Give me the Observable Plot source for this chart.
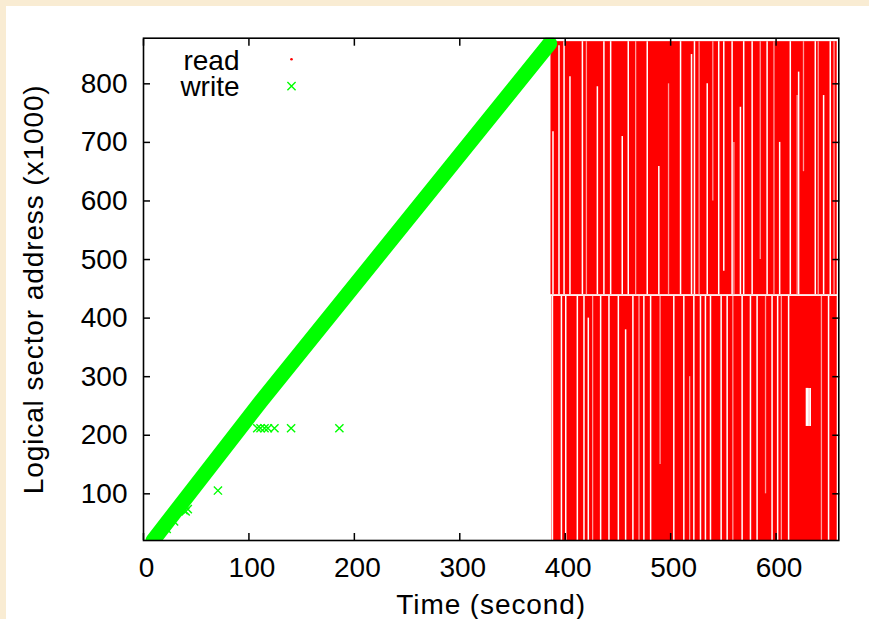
<!DOCTYPE html>
<html><head><meta charset="utf-8">
<script src="https://cdn.jsdelivr.net/npm/d3@7"></script>
<script src="https://cdn.jsdelivr.net/npm/@observablehq/plot@0.6"></script>
<style>
html,body{margin:0;padding:0;width:869px;height:619px;overflow:hidden;background:#f9ecd3;}
#panel{position:absolute;left:6px;top:6px;width:863px;height:613px;background:#fff;}
</style></head><body><div id="panel"></div>
<script>
// tick values
const xTicks = [0, 100, 200, 300, 400, 500, 600];
const yTicks = [100, 200, 300, 400, 500, 600, 700, 800];

// write stream (dense band of x markers) – points read along the band centre
const writeBandT = [9, 111, 385.3];
const writeBandY = [20.3, 257, 868.8];

// isolated write markers
const writeOutT = [22, 29, 38, 40, 42, 70.6, 107.9, 111, 114.8, 118, 124.2, 140, 185.8];
const writeOutY = [40, 53, 72, 70, 74, 105.6, 212, 212, 212, 212, 212, 212, 212];

// read region: dense blocks of reads (two halves of the address space)
const readStartT = [386.5, 387.4];
const readEndT = [658, 658];
const readLowY = [440, 20];
const readHighY = [872, 437];

// columns with no reads (time, address range)
const gapT = [388.4, 394.1, 398.9, 404.5, 416.3, 430.5, 436.7, 443.1, 454.1, 459.8, 477.8, 488.8, 509.4, 519.8, 522.6, 534.7, 545.6, 550.4, 558.3, 566.2, 569.3, 577.3, 591.5, 603.4, 613.5, 621.4, 637.2, 645.1, 651.4,
  387.9, 396.4, 400.5, 411.5, 417.8, 421.9, 433.6, 441.5, 450.4, 457.3, 464.2, 474.6, 481, 503, 512.5, 522, 528.3, 533, 537.8, 547.9, 553.6, 567.8, 575.7, 582, 596.2, 601.5, 611.9, 649.8,
  628.8, 630, 631.2, 632.4];
const gapLowY = [440, 440, 440, 440, 440, 440, 440, 440, 440, 440, 440, 440, 440, 440, 440, 440, 440, 480, 440, 440, 440, 440, 440, 440, 440, 440, 440, 440, 440,
  20, 20, 20, 20, 20, 20, 20, 20, 20, 20, 20, 20, 20, 20, 20, 20, 20, 20, 20, 20, 20, 20, 20, 20, 20, 20, 20, 20,
  215, 215, 215, 215];
const gapHighY = [718, 865, 872, 812, 872, 795, 872, 872, 710, 872, 872, 659, 872, 850, 872, 800, 872, 872, 872, 760, 872, 872, 872, 700, 872, 820, 872, 780, 872,
  437, 437, 437, 437, 437, 400, 437, 437, 437, 380, 437, 437, 437, 437, 437, 437, 437, 437, 437, 437, 437, 437, 437, 437, 437, 437, 437, 437,
  280, 280, 280, 280];

// columns with sparse reads
const sparseT = [420.1, 466.8, 498, 527, 540, 560, 585, 598, 620, 626, 640, 655, 426, 470, 490, 518, 559, 590, 605, 643];
const sparseLowY = [440, 440, 440, 440, 600, 440, 500, 440, 440, 650, 440, 440, 20, 20, 150, 20, 20, 100, 20, 20];
const sparseHighY = [872, 872, 800, 872, 872, 700, 872, 872, 780, 872, 872, 872, 437, 437, 437, 300, 437, 437, 437, 437];

const readBlocks = readStartT.map((t, i) => ({t0: t, t1: readEndT[i], y0: readLowY[i], y1: readHighY[i]}));
const gaps = gapT.map((t, i) => ({t, y0: gapLowY[i], y1: gapHighY[i]}));
const sparse = sparseT.map((t, i) => ({t, y0: sparseLowY[i], y1: sparseHighY[i]}));
const writeBand = writeBandT.map((t, i) => ({t, y: writeBandY[i]}));
const writeOut = writeOutT.map((t, i) => ({t, y: writeOutY[i]}));

const seriesNames = ["read", "write"];
const xTitle = "Time (second)";
const yTitle = "Logical sector address (x1000)";
const none = () => "";

const chart = Plot.plot({
  width: 863,
  height: 613,
  marginLeft: 137,
  marginRight: 30.7,
  marginTop: 31.7,
  marginBottom: 79,
  style: {fontFamily: "'Liberation Sans', Arial, Helvetica, sans-serif", fontSize: "28px", background: "transparent", color: "#000"},
  x: {domain: [0, 659.5]},
  y: {domain: [20.3, 877.9]},
  marks: [
    Plot.rect(readBlocks, {x1: "t0", x2: "t1", y1: "y0", y2: "y1", fill: "#ff0000"}),
    Plot.ruleX(sparse, {x: "t", y1: "y0", y2: "y1", stroke: "#ff9a9a", strokeWidth: 1.3}),
    Plot.ruleX(gaps, {x: "t", y1: "y0", y2: "y1", stroke: "#ffffff", strokeWidth: 1.5}),
    Plot.line(writeBand, {x: "t", y: "y", stroke: "#00ff00", strokeWidth: 15, clip: "frame"}),
    Plot.dot(writeOut, {x: "t", y: "y", symbol: "times", r: 3.8, stroke: "#00ff00", strokeWidth: 1.4}),
    Plot.frame({stroke: "#000", strokeWidth: 1.6}),
    Plot.axisX(xTicks, {anchor: "bottom", tickSize: -7, tickFormat: none, strokeWidth: 1.5}),
    Plot.axisX(xTicks, {anchor: "top", tickSize: -7, tickFormat: none, strokeWidth: 1.5}),
    Plot.axisY(yTicks, {anchor: "left", tickSize: -7, tickFormat: none, strokeWidth: 1.5}),
    Plot.axisY(yTicks, {anchor: "right", tickSize: -7, tickFormat: none, strokeWidth: 1.5}),
    Plot.axisX(xTicks, {anchor: "bottom", tickSize: 0, tickPadding: 17, dx: 3, label: null}),
    Plot.axisY(yTicks, {anchor: "left", tickSize: 0, tickPadding: 16, label: null}),
    Plot.text([xTitle], {frameAnchor: "bottom", lineAnchor: "middle", dy: 65, fontSize: 28}),
    Plot.text([yTitle], {frameAnchor: "left", rotate: -90, textAnchor: "middle", lineAnchor: "middle", dx: -109, fontSize: 28}),
    Plot.text([seriesNames[0]], {frameAnchor: "top-left", lineAnchor: "top", dx: 96, dy: 12.3, textAnchor: "end", fontSize: 28}),
    Plot.text([seriesNames[1]], {frameAnchor: "top-left", lineAnchor: "top", dx: 96, dy: 38.3, textAnchor: "end", fontSize: 28}),
    Plot.dot([seriesNames[0]], {frameAnchor: "top-left", dx: 148, dy: 21, r: 1.3, fill: "#ff0000"}),
    Plot.dot([seriesNames[1]], {frameAnchor: "top-left", dx: 148, dy: 48, symbol: "times", r: 3.8, stroke: "#00ff00", strokeWidth: 1.4})
  ]
});
d3.select(chart).selectAll("text")
  .filter(function () { return this.textContent === xTitle || this.textContent === yTitle; })
  .style("letter-spacing", "0.9px");
document.getElementById("panel").appendChild(chart);
</script>
</body></html>
